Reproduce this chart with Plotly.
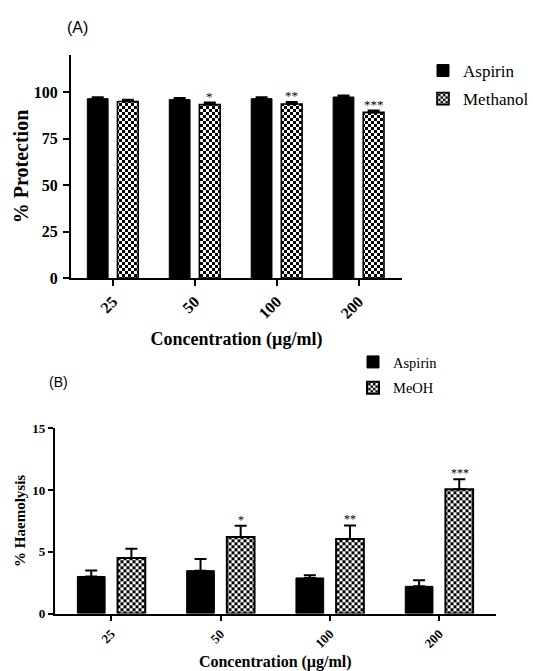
import plotly.graph_objects as go

# ---------------- data ----------------
conc = ["25", "50", "100", "200"]

prot_aspirin = [96.5, 96.0, 96.5, 97.4]
prot_aspirin_err = [0.8, 0.9, 0.7, 0.8]
prot_methanol = [95.0, 93.3, 93.6, 89.1]
prot_methanol_err = [0.9, 1.1, 1.1, 1.0]
prot_sig = ["", "*", "**", "***"]

haem_aspirin = [3.0, 3.47, 2.88, 2.2]
haem_aspirin_err = [0.48, 0.95, 0.22, 0.5]
haem_meoh = [4.5, 6.2, 6.03, 10.07]
haem_meoh_err = [0.75, 0.9, 1.1, 0.8]
haem_sig = ["", "*", "**", "***"]

W, H = 533, 671
SERIF = "Liberation Serif"
SANS = "Liberation Sans"

# layout geometry (paper fractions)
A_xdom = [71 / W, 402 / W]
A_ydom = [1 - 278 / H, 1 - 55 / H]
B_xdom = [54.5 / W, 496 / W]
B_ydom = [1 - 613.5 / H, 1 - 428.3 / H]
A_xrange = [-0.51, 3.53]
B_xrange = [-0.52, 3.52]
A_bargap = 0.265
B_bargap = 0.255

checker = dict(path="M0,0H3V3H0ZM3,3H6V6H3Z", size=6, solidity=0.5,
               fgcolor="black", bgcolor="white", fillmode="replace")

fig = go.Figure()

fig.add_trace(go.Bar(
    x=conc, y=prot_aspirin, name="Aspirin", xaxis="x", yaxis="y",
    marker=dict(color="black", line=dict(color="black", width=1)),
    error_y=dict(type="data", array=prot_aspirin_err, arrayminus=[0] * 4, symmetric=False,
                 color="black", thickness=2, width=6),
    offsetgroup="a1", legend="legend", legendgroup="a1",
))
fig.add_trace(go.Bar(
    x=conc, y=prot_methanol, name="Methanol", xaxis="x", yaxis="y",
    marker=dict(color="white", pattern=checker, line=dict(color="black", width=1.6)),
    error_y=dict(type="data", array=prot_methanol_err, arrayminus=[0] * 4, symmetric=False,
                 color="black", thickness=2, width=6),
    offsetgroup="a2", legend="legend", legendgroup="a2",
))
fig.add_trace(go.Bar(
    x=conc, y=haem_aspirin, name="Aspirin", xaxis="x2", yaxis="y2",
    marker=dict(color="black", line=dict(color="black", width=1)),
    error_y=dict(type="data", array=haem_aspirin_err, arrayminus=[0] * 4, symmetric=False,
                 color="black", thickness=2, width=6),
    offsetgroup="b1", legend="legend2", legendgroup="b1",
))
fig.add_trace(go.Bar(
    x=conc, y=haem_meoh, name="MeOH", xaxis="x2", yaxis="y2",
    marker=dict(color="white", pattern=checker, line=dict(color="black", width=2)),
    error_y=dict(type="data", array=haem_meoh_err, arrayminus=[0] * 4, symmetric=False,
                 color="black", thickness=2, width=6),
    offsetgroup="b2", legend="legend2", legendgroup="b2",
))

# significance stars above the second bar of each group
def bar_shift(xdom, xrange, bargap):
    cat_px = (xdom[1] - xdom[0]) * W / (xrange[1] - xrange[0])
    return (1 - bargap) * cat_px / 4

annotations = []
shA = bar_shift(A_xdom, A_xrange, A_bargap)
for i, (v, e, s) in enumerate(zip(prot_methanol, prot_methanol_err, prot_sig)):
    if s:
        annotations.append(dict(x=i, y=v + e, xref="x", yref="y", text=s, showarrow=False,
                                xshift=shA, yanchor="bottom", yshift=-3,
                                font=dict(family=SERIF, size=13, color="black")))
shB = bar_shift(B_xdom, B_xrange, B_bargap)
for i, (v, e, s) in enumerate(zip(haem_meoh, haem_meoh_err, haem_sig)):
    if s:
        annotations.append(dict(x=i, y=v + e, xref="x2", yref="y2", text=s, showarrow=False,
                                xshift=shB, yanchor="bottom", yshift=-3,
                                font=dict(family=SERIF, size=12, color="black")))

annotations.append(dict(x=65 / W, y=1 - 27 / H, xref="paper", yref="paper", text="(A)",
                        showarrow=False, xanchor="left", yanchor="middle",
                        font=dict(family=SANS, size=16, color="black")))
annotations.append(dict(x=47 / W, y=1 - 382 / H, xref="paper", yref="paper", text="(B)",
                        showarrow=False, xanchor="left", yanchor="middle",
                        font=dict(family=SANS, size=14, color="black")))

axis_common = dict(showline=True, linecolor="black", ticks="outside", tickcolor="black",
                   showgrid=False, zeroline=False, automargin=False)

fig.update_layout(
    width=W, height=H, margin=dict(l=0, r=0, t=0, b=0, autoexpand=False),
    paper_bgcolor="white", plot_bgcolor="white",
    barmode="group", bargap=A_bargap, bargroupgap=0.31,
    showlegend=True,
    xaxis=dict(domain=A_xdom, anchor="y", type="category", range=A_xrange, tickangle=-45,
               linewidth=2, tickwidth=2, ticklen=6,
               tickfont=dict(family=SERIF, size=16, color="black", weight="bold"),
               title=dict(text="<b>Concentration (µg/ml)</b>", standoff=11,
                          font=dict(family=SERIF, size=18, color="black")),
               **axis_common),
    yaxis=dict(domain=A_ydom, anchor="x", range=[0, 120], tickvals=[0, 25, 50, 75, 100],
               linewidth=2, tickwidth=2, ticklen=6, ticklabelstandoff=2,
               tickfont=dict(family=SERIF, size=16, color="black", weight="bold"),
               title=dict(text="<b>% Protection</b>", standoff=0,
                          font=dict(family=SERIF, size=20, color="black")),
               **axis_common),
    xaxis2=dict(domain=B_xdom, anchor="y2", type="category", range=B_xrange, tickangle=-45,
                linewidth=1.5, tickwidth=1.5, ticklen=6,
                tickfont=dict(family=SERIF, size=13, color="black", weight="bold"),
                title=dict(text="<b>Concentration (µg/ml)</b>", standoff=12,
                           font=dict(family=SERIF, size=16, color="black")),
                **axis_common),
    yaxis2=dict(domain=B_ydom, anchor="x2", range=[0, 15], tickvals=[0, 5, 10, 15],
                linewidth=1.5, tickwidth=1.5, ticklen=5,
                tickfont=dict(family=SERIF, size=13, color="black", weight="bold"),
                title=dict(text="<b>% Haemolysis</b>", standoff=3,
                           font=dict(family=SERIF, size=15, color="black")),
                **axis_common),
    legend=dict(x=423 / W, xanchor="left", y=1 - 53 / H, yanchor="top",
                traceorder="grouped", tracegroupgap=3,
                font=dict(family=SERIF, size=17, color="black"), bgcolor="rgba(0,0,0,0)"),
    legend2=dict(x=353 / W, xanchor="left", y=1 - 346 / H, yanchor="top",
                 traceorder="grouped", tracegroupgap=4,
                 font=dict(family=SERIF, size=14.5, color="black"), bgcolor="rgba(0,0,0,0)"),
    annotations=annotations,
)

fig.write_html(
    "out.html",
    config={"displayModeBar": False},
    post_script="document.body.style.margin='0';document.body.style.padding='0';"
                "document.body.style.overflow='hidden';",
)
